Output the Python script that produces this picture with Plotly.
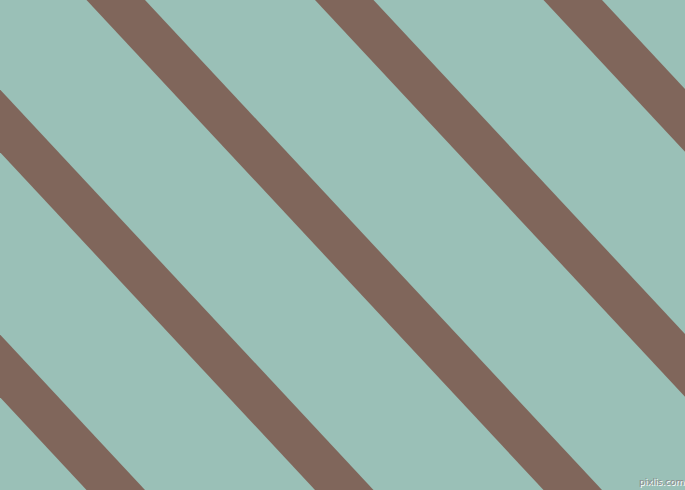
import plotly.graph_objects as go

# stripe left-edge positions where each stripe meets the top edge (px)
stripe_starts = [-370.5, -142, 86.5, 315, 543.5]
stripe_width = 58.5      # horizontal width of a stripe
slope = 0.9327           # dx per dy, going down
y_span = [-10, 500]

bg_color = '#9ac0b7'
stripe_color = '#80665b'

fig = go.Figure()

for x0 in stripe_starts:
    ys = [y_span[0], y_span[0], y_span[1], y_span[1], y_span[0]]
    xs = [x0 + slope * ys[0], x0 + stripe_width + slope * ys[1],
          x0 + stripe_width + slope * ys[2], x0 + slope * ys[3], x0 + slope * ys[4]]
    fig.add_trace(go.Scatter(x=xs, y=ys, mode='lines', fill='toself',
                             fillcolor=stripe_color, line=dict(width=0),
                             hoverinfo='skip', showlegend=False))

fig.add_annotation(x=661, y=482, text='pixlis.com', showarrow=False,
                   font=dict(family='DejaVu Sans', size=9, color='#8c8c8c',
                             shadow='1px 1px 0px #ffffff'))

fig.update_xaxes(range=[0, 685], visible=False, fixedrange=True)
fig.update_yaxes(range=[490, 0], visible=False, fixedrange=True)
fig.update_layout(width=685, height=490, margin=dict(l=0, r=0, t=0, b=0),
                  plot_bgcolor=bg_color, paper_bgcolor=bg_color)

# drop the browser's default page margin so the plot sits at 0,0
fig.write_html("out.html", config={'displayModeBar': False},
               post_script="document.body.style.margin='0';document.body.style.overflow='hidden';")
